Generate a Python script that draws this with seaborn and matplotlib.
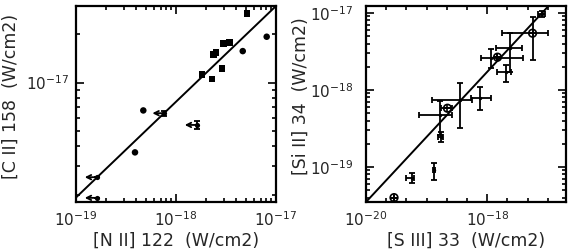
import matplotlib
matplotlib.use("Agg")
import matplotlib.pyplot as plt
import matplotlib.ticker as mticker
import numpy as np
import pandas as pd
import seaborn as sns

# ---- left panel: [N II] 122 vs [C II] 158 ----
nii_det = [3.89e-19, 4.71e-19, 1.82e-18, 2.29e-18, 2.88e-18, 2.36e-18, 2.51e-18,
           2.97e-18, 3.41e-18, 5.13e-18, 4.65e-18, 8.07e-18]
cii_det = [3.67e-18, 6.70e-18, 1.12e-17, 1.05e-17, 1.22e-17, 1.49e-17, 1.54e-17,
           1.75e-17, 1.78e-17, 2.69e-17, 1.57e-17, 1.93e-17]
kind_det = ['circle', 'circle', 'square', 'square', 'square', 'square', 'square',
            'square', 'square', 'square', 'circle', 'circle']
# upper limits in [N II]
nii_lim = [1.61e-19, 1.61e-19, 7.64e-19, 1.61e-18]
cii_lim = [2.57e-18, 1.91e-18, 6.44e-18, 5.44e-18]
cii_lim_err = [0.0, 0.0, 0.25e-18, 0.30e-18]
fit1_x = [1e-19, 1e-17]
fit1_y = [1.92e-18, 3.0e-17]

# ---- right panel: [S III] 33 vs [Si II] 34 ----
siii = [7.9e-18, 5.61e-18, 2.40e-18, 1.15e-18, 1.48e-18, 2.04e-18, 3.54e-19,
        7.65e-19, 1.65e-19, 2.21e-19, 1.72e-19, 1.33e-19, 5.69e-20, 2.9e-20]
siii_lo = [7.0e-18, 1.78e-18, 1.41e-18, 7.87e-19, 1.48e-18, 1.48e-18, 1.25e-19,
           5.35e-19, 7.5e-20, 1.7e-19, 1.55e-19, 1.27e-19, 4.5e-20, 2.9e-20]
siii_hi = [9.0e-18, 1.0e-17, 3.8e-18, 3.84e-18, 1.48e-18, 2.47e-18, 5.71e-19,
           1.15e-18, 2.67e-19, 2.6e-19, 1.9e-19, 1.40e-19, 6.2e-20, 2.9e-20]
siil = [9.7e-18, 5.45e-18, 3.5e-18, 2.58e-18, 2.66e-18, 1.73e-18, 7.41e-19,
        7.94e-19, 4.73e-19, 5.78e-19, 2.48e-19, 9.14e-20, 7.13e-20, 3.99e-20]
siil_lo = [8.8e-18, 2.45e-18, 1.71e-18, 1.9e-18, 2.66e-18, 1.28e-18, 3.18e-19,
           5.5e-19, 2.6e-19, 5.78e-19, 2.13e-19, 6.8e-20, 6.1e-20, 3.99e-20]
siil_hi = [1.07e-17, 8.95e-18, 5.5e-18, 3.4e-18, 2.66e-18, 2.11e-18, 1.22e-18,
           1.08e-18, 7.2e-19, 5.78e-19, 2.86e-19, 1.14e-19, 8.3e-20, 3.99e-20]
ring = [False, True, False, False, True, False, False, False, False, True,
        False, False, False, True]
fit2_x = [1e-20, 1.0e-17]
fit2_y = [3.5e-20, 1.2e-17]

sns.set_style('ticks')
plt.rcParams['font.family'] = ['DejaVu Sans']
plt.rcParams['mathtext.default'] = 'regular'

fig = plt.figure(figsize=(5.68, 2.52), dpi=100)
W, H = 568.0, 252.0
ax1 = fig.add_axes([76 / W, 50 / H, 200 / W, 196 / H])
ax2 = fig.add_axes([366 / W, 50 / H, 200 / W, 196 / H])

for ax in (ax1, ax2):
    ax.set_xscale('log')
    ax.set_yscale('log')
    for s in ax.spines.values():
        s.set_linewidth(1.6)
        s.set_color('black')
    ax.tick_params(which='both', direction='in', top=True, right=True,
                   color='black', width=1.2, labelsize=11)
    ax.tick_params(which='major', length=6)
    ax.tick_params(which='minor', length=3)
    ax.tick_params(axis='x', which='major', pad=6)
ax1.tick_params(axis='y', which='major', pad=5)
ax2.tick_params(axis='y', which='major', pad=9)

# left panel
det = pd.DataFrame({'x': nii_det, 'y': cii_det, 'kind': kind_det})
sns.scatterplot(data=det, x='x', y='y', style='kind',
                markers={'circle': 'o', 'square': 's'}, color='black',
                s=22, edgecolor='black', linewidth=0, legend=False, ax=ax1)
lim = pd.DataFrame({'x': nii_lim, 'y': cii_lim})
sns.scatterplot(data=lim, x='x', y='y', marker='o', color='black', s=14,
                linewidth=0, legend=False, ax=ax1)
ax1.errorbar(nii_lim, cii_lim, yerr=cii_lim_err, fmt='none', ecolor='black',
             elinewidth=1.3, capsize=2.5, capthick=1.3)
for x, y in zip(nii_lim, cii_lim):
    ax1.annotate('', xy=(x * 0.76, y), xytext=(x, y),
                 arrowprops=dict(arrowstyle='->', lw=1.3, color='black',
                                 shrinkA=0, shrinkB=0, mutation_scale=8))
sns.lineplot(x=fit1_x, y=fit1_y, color='black', lw=1.4, ax=ax1)
ax1.set_xlim(1e-19, 1e-17)
ax1.set_ylim(1.8e-18, 3.0e-17)
ax1.yaxis.set_minor_formatter(mticker.NullFormatter())
ax1.xaxis.set_minor_formatter(mticker.NullFormatter())
ax1.set_xlabel('[N II] 122  (W/cm2)', fontsize=12.5)
ax1.set_ylabel('[C II] 158  (W/cm2)', fontsize=12.5)

# right panel
sx = np.array(siii)
sy = np.array(siil)
xerr = [sx - np.array(siii_lo), np.array(siii_hi) - sx]
yerr = [sy - np.array(siil_lo), np.array(siil_hi) - sy]
ax2.errorbar(sx, sy, xerr=xerr, yerr=yerr, fmt='none', ecolor='black',
             elinewidth=1.3, capsize=2.5, capthick=1.3)
pts = pd.DataFrame({'x': siii, 'y': siil, 'ring': ring})
sns.scatterplot(data=pts[~pts['ring']], x='x', y='y', marker='o', color='black',
                s=6, linewidth=0, legend=False, ax=ax2)
sns.scatterplot(data=pts[pts['ring']], x='x', y='y', marker='o',
                facecolor='none', edgecolor='black', s=30, linewidth=1.2,
                legend=False, ax=ax2)
sns.scatterplot(data=pts[pts['ring']], x='x', y='y', marker='+', color='black',
                s=30, linewidth=1.2, legend=False, ax=ax2)
sns.lineplot(x=fit2_x, y=fit2_y, color='black', lw=1.4, ax=ax2)
ax2.set_xlim(1e-20, 2e-17)
ax2.set_ylim(3.5e-20, 1.23e-17)
ax2.xaxis.set_major_locator(mticker.FixedLocator([1e-20, 1e-18]))
ax2.xaxis.set_minor_locator(mticker.FixedLocator(
    [10 ** (-20 + k / 3) for k in range(1, 11) if k % 6 != 0]))
ax2.xaxis.set_minor_formatter(mticker.NullFormatter())
ax2.yaxis.set_minor_formatter(mticker.NullFormatter())
ax2.set_xlabel('[S III] 33  (W/cm2)', fontsize=12.5)
ax2.set_ylabel('[Si II] 34  (W/cm2)', fontsize=12.5)

for ax in (ax1, ax2):
    ax.xaxis.set_label_coords(0.5, -0.15)
    ax.xaxis.label.set_va('top')
    ax.yaxis.set_label_coords(-0.325, 0.54)
    ax.yaxis.label.set_va('center')

fig.savefig('out.png', dpi=100)
